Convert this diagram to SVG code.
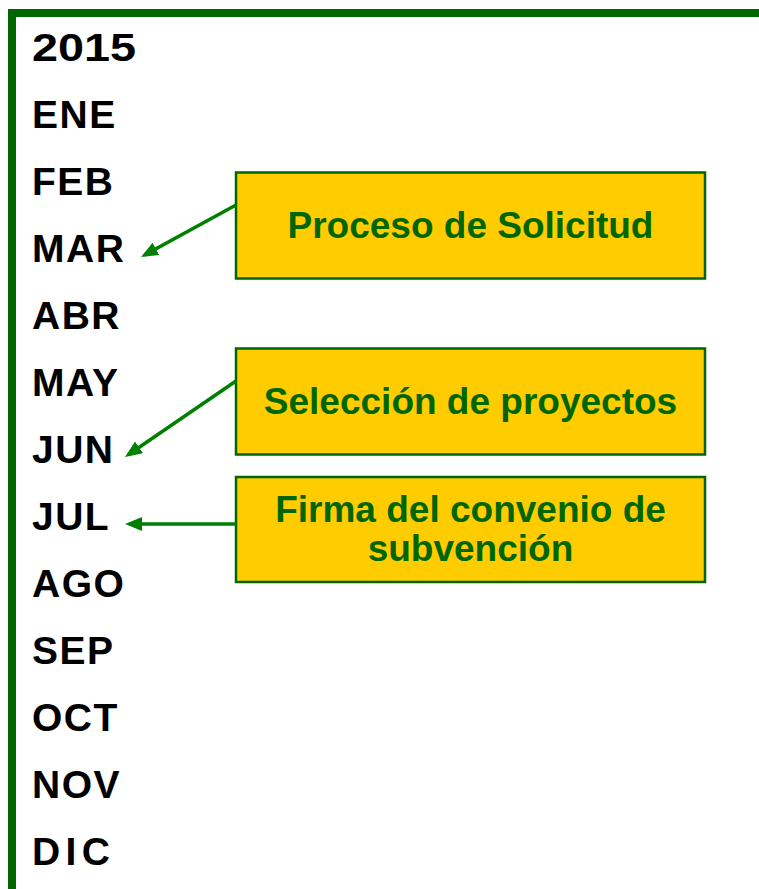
<svg xmlns="http://www.w3.org/2000/svg" width="759" height="889" viewBox="0 0 759 889">
  <style>
    .month { font-family: "Liberation Sans", Arial, sans-serif; font-weight: bold; font-size: 39px; fill: #000000; letter-spacing: 1.5px; }
    .box rect { fill: #FFCC00; stroke: #006600; stroke-width: 2.5; }
    .box text { font-family: "Liberation Sans", Arial, sans-serif; font-weight: bold; font-size: 37px; fill: #006600; text-anchor: middle; }
    .conn { fill: none; stroke: #008000; stroke-width: 3.5; marker-end: url(#arrow); }
  </style>
  <defs>
    <marker id="arrow" markerUnits="userSpaceOnUse" markerWidth="18" markerHeight="15" refX="13" refY="7" orient="auto">
      <path d="M0,0 L17,7 L0,14 z" fill="#008000"/>
    </marker>
  </defs>
  <rect width="759" height="889" fill="#ffffff"/>
  <path id="frame" d="M12,889 V13 H759" fill="none" stroke="#006600" stroke-width="8" stroke-linecap="square"/>

  <g id="months">
    <text class="month" x="32" y="61" textLength="104" lengthAdjust="spacingAndGlyphs" style="letter-spacing:0">2015</text>
    <text class="month" x="32" y="128">ENE</text>
    <text class="month" x="32" y="195">FEB</text>
    <text class="month" x="32" y="262">MAR</text>
    <text class="month" x="32" y="329">ABR</text>
    <text class="month" x="32" y="396">MAY</text>
    <text class="month" x="32" y="463">JUN</text>
    <text class="month" x="32" y="530">JUL</text>
    <text class="month" x="32" y="597">AGO</text>
    <text class="month" x="32" y="664">SEP</text>
    <text class="month" x="32" y="731">OCT</text>
    <text class="month" x="32" y="798">NOV</text>
    <text class="month" x="32" y="865" textLength="78" lengthAdjust="spacing" style="letter-spacing:0">DIC</text>
  </g>

  <g id="node-solicitud" class="box">
    <rect x="236" y="172.5" width="469" height="106"/>
    <text x="470.5" y="238">Proceso de Solicitud</text>
  </g>
  <g id="node-seleccion" class="box">
    <rect x="236" y="348.5" width="469" height="106"/>
    <text x="470.5" y="414">Selección de proyectos</text>
  </g>
  <g id="node-firma" class="box">
    <rect x="236" y="477" width="469" height="105"/>
    <text x="470.5" y="522">Firma del convenio de</text>
    <text x="470.5" y="561">subvención</text>
  </g>

  <g id="connectors">
    <path class="conn" d="M236,205 L144.5,255.1"/>
    <path class="conn" d="M236,381 L128.3,454.7"/>
    <path class="conn" d="M236,524 L129,524"/>
  </g>
</svg>
